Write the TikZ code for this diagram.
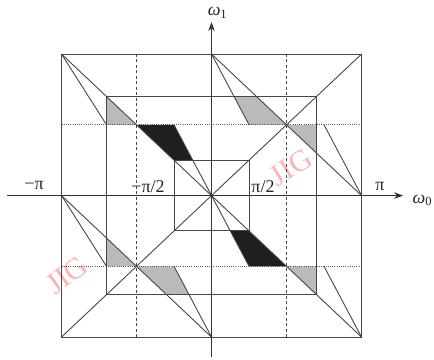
\documentclass[tikz,border=0pt]{standalone}
\usepackage{fontspec}
\setmainfont{Liberation Serif}
\usetikzlibrary{arrows.meta}

\begin{document}
\begin{tikzpicture}[
    x=150pt, y=141.5pt,
    every node/.style={font=\fontsize{18}{20}\selectfont, inner sep=0pt, text=black!85},
    edge/.style={draw=black!72, line width=0.9pt},
    axis/.style={-{Stealth[length=9pt,width=6.5pt]}, draw=black!80, line width=0.9pt},
    halfpi/.style={draw=black!72, line width=1.1pt, dash pattern=on 3pt off 2.5pt},
    gridline/.style={draw=black!65, line width=0.9pt, dash pattern=on 1pt off 1.2pt},
    lightcell/.style={fill=black!27},
    darkcell/.style={fill=black!88},
    watermark/.style={text=red!30, font=\fontsize{30}{30}\selectfont}
  ]
    \useasboundingbox (-1.41,-1.155) rectangle (1.483,1.382);

    % shaded cells
    \fill[lightcell] (-0.7,0.7) -- (-0.7,0.5) -- (-0.5,0.5) -- cycle;
    \fill[darkcell] (-0.5,0.5) -- (-0.25,0.5) -- (-0.125,0.25) -- (-0.25,0.25) -- cycle;
    \fill[lightcell] (0.15,0.7) -- (0.25,0.5) -- (0.5,0.5) -- (0.3,0.7) -- cycle;
    \fill[lightcell] (0.5,0.5) -- (0.7,0.5) -- (0.7,0.3) -- cycle;
    \fill[lightcell] (-0.7,-0.3) -- (-0.7,-0.5) -- (-0.5,-0.5) -- cycle;
    \fill[lightcell] (-0.5,-0.5) -- (-0.25,-0.5) -- (-0.15,-0.7) -- (-0.3,-0.7) -- cycle;
    \fill[lightcell] (0.5,-0.5) -- (0.7,-0.5) -- (0.7,-0.7) -- cycle;
    \fill[darkcell] (0.125,-0.25) -- (0.25,-0.25) -- (0.5,-0.5) -- (0.25,-0.5) -- cycle;

    % watermark
    \node[watermark, rotate=32] (jigA) at (0.53,0.2) {JIG};
    \node[watermark, rotate=36] (jigB) at (-0.963,-0.562) {JIG};

    % lines at +-pi/2
    \foreach \h in {-0.5,0.5} {
      \draw[halfpi] (\h,-1) -- (\h,1);
      \draw[gridline] (-1,\h) -- (1,\h);
    }

    % squares
    \foreach \s in {1,0.7,0.25}
      \draw[edge] (-\s,-\s) rectangle (\s,\s);

    % diagonals and diamond
    \draw[edge] (-1,1) -- (1,-1);
    \draw[edge] (1,1) -- (-1,-1);
    \draw[edge] (0,1) -- (1,0);
    \draw[edge] (-1,0) -- (0,-1);

    % slanted edges
    \draw[edge] (-1,1) -- (-0.7,0.5);
    \draw[edge] (0,1) -- (0.25,0.5);
    \draw[edge] (1,0) -- (0.75,0.5);
    \draw[edge] (-1,0) -- (-0.7,-0.5);
    \draw[edge] (0,-1) -- (-0.25,-0.5);
    \draw[edge] (1,-1) -- (0.75,-0.5);
    \draw[edge] (0,0) -- (-0.25,0.5);
    \draw[edge] (0,0) -- (0.25,-0.5);

    % axes
    \coordinate (w0tail) at (-1.363,0);
    \coordinate (w0tip) at (1.277,0);
    \coordinate (w1tail) at (0,-1.141);
    \coordinate (w1tip) at (0,1.226);
    \draw[axis] (w0tail) -- (w0tip);
    \draw[axis] (w1tail) -- (w1tip);
    \node (w0) at (1.405,-0.035) {\textit{ω}\textsubscript{0}};
    \node (w1) at (0.04,1.29) {\textit{ω}\textsubscript{1}};

    % tick labels
    \node (mpi) at (-1.183,0.074) {−π};
    \node (mhalf) at (-0.423,0.065) {−π/2};
    \node (phalf) at (0.343,0.065) {π/2};
    \node (ppi) at (1.123,0.065) {π};
  \end{tikzpicture}
\end{document}
